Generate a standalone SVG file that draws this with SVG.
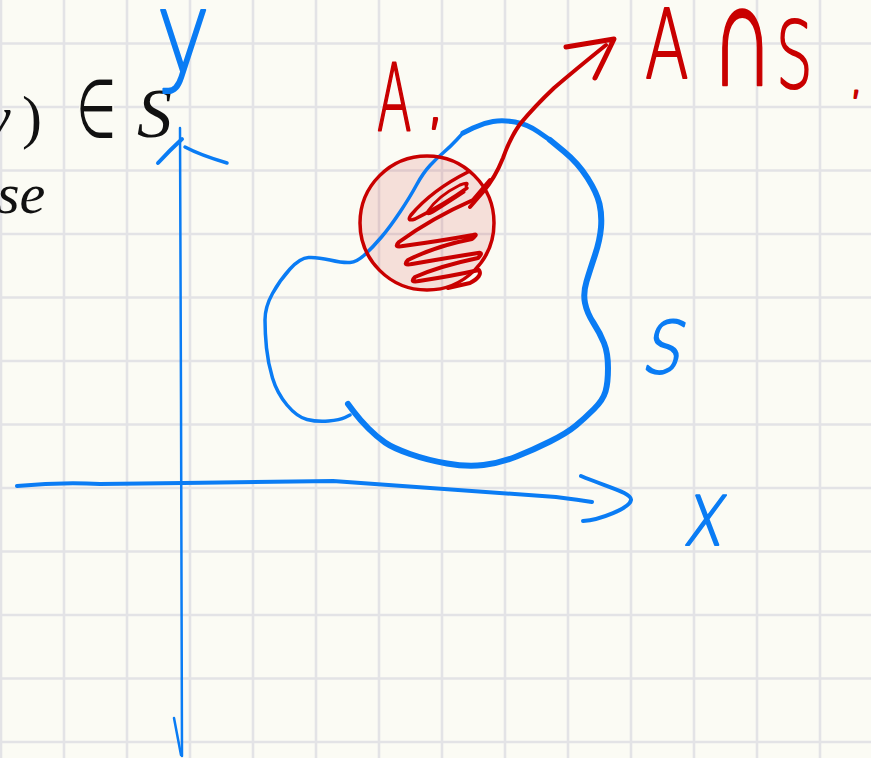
<svg xmlns="http://www.w3.org/2000/svg" width="871" height="758" viewBox="0 0 871 758">
<defs>
<style>
.grid line{stroke:#e3e3e6;stroke-width:2.6}
.blue{fill:none;stroke:#0a7cf4;stroke-linecap:round;stroke-linejoin:round}
.red{fill:none;stroke:#c90000;stroke-linecap:round;stroke-linejoin:round}
.math{font-family:"Liberation Serif","DejaVu Serif",serif;fill:#111}
.hand{font-family:"DejaVu Sans","Liberation Sans",sans-serif;font-weight:200;stroke-linejoin:round}
.hr{fill:#c90000;stroke:#c90000;stroke-width:2.2}
.hb{fill:#0a7cf4;stroke:#0a7cf4;stroke-width:2}
</style>
</defs>
<rect width="871" height="758" fill="#fbfbf4"/>
<g class="grid" id="grid">
<line x1="1" y1="0" x2="1" y2="758"/><line x1="64" y1="0" x2="64" y2="758"/><line x1="127" y1="0" x2="127" y2="758"/><line x1="190" y1="0" x2="190" y2="758"/><line x1="253" y1="0" x2="253" y2="758"/><line x1="316" y1="0" x2="316" y2="758"/><line x1="379" y1="0" x2="379" y2="758"/><line x1="442" y1="0" x2="442" y2="758"/><line x1="505" y1="0" x2="505" y2="758"/><line x1="568" y1="0" x2="568" y2="758"/><line x1="631" y1="0" x2="631" y2="758"/><line x1="694" y1="0" x2="694" y2="758"/><line x1="757" y1="0" x2="757" y2="758"/><line x1="820" y1="0" x2="820" y2="758"/>
<line x1="0" y1="43.5" x2="871" y2="43.5"/><line x1="0" y1="107" x2="871" y2="107"/><line x1="0" y1="170.5" x2="871" y2="170.5"/><line x1="0" y1="234" x2="871" y2="234"/><line x1="0" y1="297.5" x2="871" y2="297.5"/><line x1="0" y1="361" x2="871" y2="361"/><line x1="0" y1="424.5" x2="871" y2="424.5"/><line x1="0" y1="488" x2="871" y2="488"/><line x1="0" y1="551.5" x2="871" y2="551.5"/><line x1="0" y1="615" x2="871" y2="615"/><line x1="0" y1="678.5" x2="871" y2="678.5"/><line x1="0" y1="742" x2="871" y2="742"/>
</g>
<g id="math-text">
<text class="math" font-size="60" font-style="italic" x="-16" y="137">y</text>
<text class="math" font-size="60" x="22" y="137">)</text>
<text font-family="DejaVu Serif, serif" fill="#111" stroke="#fbfbf4" stroke-width="1.6" font-size="74" transform="translate(73,139) scale(0.85,1.3)">∈</text>
<text class="math" font-size="70" font-style="italic" x="137" y="137">S</text>
<text class="math" font-size="58" font-style="italic" x="-3" y="213">se</text>
</g>
<g id="region-A-fill">
<circle cx="427" cy="223" r="67" fill="#c90000" fill-opacity="0.11"/>
</g>
<g id="axes">
<path class="blue" stroke-width="2.5" d="M180,128 L181,400 L182,756"/>
<path class="blue" stroke-width="2.5" d="M174,718 L181,755"/>
<path class="blue" stroke-width="4" d="M158,163 Q170,150 182,139"/>
<path class="blue" stroke-width="3.5" d="M185,147 Q200,155 227,163"/>
<path class="blue" stroke-width="4" d="M17,486 Q60,482 100,484 L183,483 L333,481 L556,497 Q580,500 592,502"/>
<path class="blue" stroke-width="4" d="M581,476 C610,488 632,493 631,500 C630,508 600,520 583,521"/>
</g>
<g id="set-S">
<path class="blue" stroke-width="6" d="M348,404 L354,412 Q360,420 368.5,428.5 Q377,437 385,442.5 Q393,448 410,454 Q427,460 447,463.5 Q467,467 483.5,465 Q500,463 516.5,456.5 Q533,450 550,441.5 Q567,433 576,425.5 Q585,418 594,409 Q603,400 605.5,391.5 Q608,383 608,368 Q608,353 604,343 Q600,333 593.5,323 Q587,313 585,303 Q583,293 586.5,281.5 Q590,270 595,255 Q600,240 601,227.5 Q602,215 599.5,204 Q597,193 587.5,178 Q578,163 564,151.5 L550,140"/>
<path class="blue" stroke-width="5" d="M550,140 L538.5,132 Q527,124 515,122 Q503,120 493,121.5 Q483,123 473,128 L463,133"/>
<path class="blue" stroke-width="3.5" d="M463,133 L456.5,140 Q450,147 443.5,152.5 Q437,158 430,165.5 Q423,173 416.5,185 Q410,197 400,212 Q390,227 381.5,237 Q373,247 365,254.5 Q357,262 350,262.5 Q343,263 330,260 Q317,257 308.5,257.5 Q300,258 290,269 Q280,280 272.5,293.5 Q265,307 265,320 Q265,333 266.5,348 Q268,363 272.5,378 Q277,393 287,405 Q297,417 307,419.5 Q317,422 328.5,421 Q340,420 345,417.5 L350,415"/>
</g>
<g id="region-A">
<circle class="red" cx="427" cy="223" r="67" stroke-width="3.5"/>
<path class="red" stroke-width="3.5" d="M468,172 Q432,190 411,215 Q406,222 415,219 Q445,204 467,188"/>
<path class="red" stroke-width="3" d="M466,186 Q470,181 460,185 Q438,196 428,211 Q426,216 433,212 Q452,200 464,192"/>
<path class="red" stroke-width="4" d="M490,180 L473,200 Q432,218 399,242 Q393,248 403,246 Q440,241 473,235 Q479,233 472,239 Q436,246 408,260 Q402,266 412,264 Q446,258 478,253 Q484,252 478,258 Q440,266 415,277 Q409,283 419,281 Q452,276 479,270 Q483,276 470,283 L448,288"/>
</g>
<g id="connectors">
<path class="red" stroke-width="4" d="M470,207 L483,192 Q495,178 503,158 Q510,138 520,124 Q535,106 554,88 Q575,70 606,45"/>
<path class="red" stroke-width="5" d="M566,47 L614,39 Q604,60 595,78"/>
</g>
<g id="labels">
<text class="hand hb" font-size="112" stroke-width="0.8" transform="translate(156,72) scale(0.82,1)">y</text>
<text class="hand hr" font-size="92" transform="translate(377,130) scale(0.55,1)">A</text>
<text class="hand hr" font-size="60" x="426" y="122">,</text>
<text class="hand hr" font-size="97" transform="translate(645,78) scale(0.66,1)">A</text>
<text class="hand hr" font-size="150" transform="translate(711,85) scale(0.58,1)">∩</text>
<text class="hand hr" font-size="93" transform="translate(776,88) scale(0.62,1)">S</text>
<text class="hand hr" font-size="40" x="850" y="93">,</text>
<text class="hand hb" font-size="72" transform="translate(640,373) skewX(-14) scale(0.85,1)">S</text>
<text class="hand hb" font-size="91" transform="translate(682,545) skewX(-10) scale(0.75,1)">x</text>
</g>
</svg>
